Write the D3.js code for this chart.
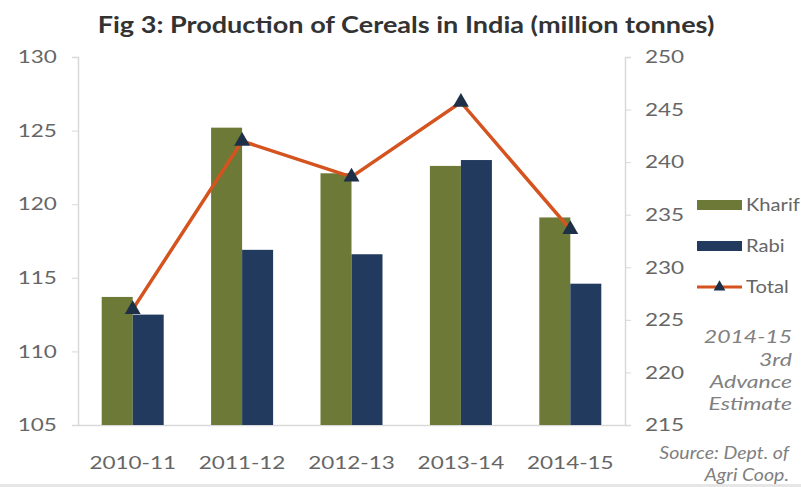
<!DOCTYPE html>
<html>
<head>
<meta charset="utf-8">
<script src="https://cdn.jsdelivr.net/npm/d3@7"></script>
<style>
  html, body { margin: 0; padding: 0; background: #ffffff; }
  svg { display: block; }
</style>
</head>
<body>
<svg id="chart" width="801" height="487"></svg>
<script>
const categories = ["2010-11", "2011-12", "2012-13", "2013-14", "2014-15"];
const kharif = [113.7, 125.2, 122.1, 122.6, 119.1];
const rabi = [112.5, 116.9, 116.6, 123.0, 114.6];
const total = [226.0, 242.0, 238.6, 245.7, 233.6];
const leftTicks = [105, 110, 115, 120, 125, 130];
const rightTicks = [215, 220, 225, 230, 235, 240, 245, 250];
const seriesNames = ["Kharif", "Rabi", "Total"];
const noteLines = ["2014-15", "3rd", "Advance", "Estimate"];
const sourceLines = ["Source: Dept. of", "Agri Coop."];

const colors = { Kharif: "#6d7a37", Rabi: "#223a5e", Total: "#d4531f", marker: "#1d3048" };
const font = "Lato, 'Open Sans', sans-serif";
const SX = 1.25;

const svg = d3.select("#chart");
const pLeft = 78, pRight = 625, pTop = 57, pBottom = 425;

const x = d3.scaleBand().domain(categories).range([pLeft, pRight]).paddingInner(0).paddingOuter(0);
const x1 = d3.scaleBand().domain(["Kharif", "Rabi"]).range([x.bandwidth() / 2 - 31, x.bandwidth() / 2 + 31]);
const yL = d3.scaleLinear().domain([105, 130]).range([pBottom, pTop]);
const yR = d3.scaleLinear().domain([215, 250]).range([pBottom, pTop]);

// bottom strip
svg.append("rect").attr("x", 0).attr("y", 484).attr("width", 801).attr("height", 3).attr("fill", "#e6e6e6");

// Title
svg.append("g").attr("transform", "translate(406,33) scale(1.23,1)")
  .append("text").attr("text-anchor", "middle")
  .attr("font-family", font).attr("font-weight", "bold").attr("font-size", 22).attr("fill", "#333")
  .text("Fig 3: Production of Cereals in India (million tonnes)");

// Axes
const gL = svg.append("g").attr("transform", `translate(${pLeft},0)`)
  .call(d3.axisLeft(yL).tickValues(leftTicks).tickSize(6).tickPadding(11));
const gR = svg.append("g").attr("transform", `translate(${pRight},0)`)
  .call(d3.axisRight(yR).tickValues(rightTicks).tickSize(6).tickPadding(10));
const gX = svg.append("g").attr("transform", `translate(0,${pBottom})`)
  .call(d3.axisBottom(x).tickSize(0).tickPadding(31));
[gL, gR, gX].forEach(g => {
  g.selectAll("path.domain").attr("stroke", "#d9d9d9").attr("stroke-width", 1.5);
  g.selectAll(".tick line").attr("stroke", "#d9d9d9");
  g.selectAll("text").attr("font-family", font).attr("font-size", 18).attr("fill", "#666")
    .attr("transform", `scale(${SX},1)`);
});

// Bars
const groups = svg.append("g").selectAll("g").data(categories).join("g")
  .attr("transform", d => `translate(${x(d)},0)`);
groups.selectAll("rect").data((d, i) => [
  { key: "Kharif", v: kharif[i] }, { key: "Rabi", v: rabi[i] }
]).join("rect")
  .attr("x", d => x1(d.key)).attr("width", x1.bandwidth())
  .attr("y", d => yL(d.v)).attr("height", d => pBottom - yL(d.v))
  .attr("fill", d => colors[d.key]);

// Line
const line = d3.line().x((d, i) => x(categories[i]) + x.bandwidth() / 2).y(d => yR(d));
svg.append("path").datum(total).attr("d", line)
  .attr("fill", "none").attr("stroke", colors.Total).attr("stroke-width", 3.5);
const tri = d3.symbol().type(d3.symbolTriangle).size(110);
svg.append("g").selectAll("path").data(total).join("path")
  .attr("transform", (d, i) => `translate(${x(categories[i]) + x.bandwidth() / 2},${yR(d)})`)
  .attr("d", tri).attr("fill", colors.marker);

// Legend
const lg = svg.append("g");
const ly = [205, 246, 287];
seriesNames.forEach((s, i) => {
  if (s === "Total") {
    lg.append("line").attr("x1", 697).attr("x2", 742).attr("y1", ly[i]).attr("y2", ly[i])
      .attr("stroke", colors.Total).attr("stroke-width", 3);
    lg.append("path").attr("transform", `translate(719.5,${ly[i]})`)
      .attr("d", d3.symbol().type(d3.symbolTriangle).size(60)()).attr("fill", colors.marker);
  } else {
    lg.append("rect").attr("x", 697).attr("y", ly[i] - 5).attr("width", 45).attr("height", 10)
      .attr("fill", colors[s]);
  }
  lg.append("g").attr("transform", `translate(746,${ly[i] + 6}) scale(1.12,1)`)
    .append("text").attr("font-family", font)
    .attr("font-size", 18).attr("fill", "#666").text(s);
});

// Note
const noteY = [343, 366, 388, 410];
noteLines.forEach((t, i) => {
  svg.append("g").attr("transform", `translate(792,${noteY[i]}) scale(1.28,1)`)
    .append("text").attr("text-anchor", "end")
    .attr("font-family", font).attr("font-style", "italic").attr("font-size", 18)
    .attr("fill", "#808080").text(t);
});
const srcY = [459, 481];
sourceLines.forEach((t, i) => {
  svg.append("g").attr("transform", `translate(789,${srcY[i]}) scale(1.15,1)`)
    .append("text").attr("text-anchor", "end")
    .attr("font-family", font).attr("font-style", "italic").attr("font-size", 17)
    .attr("fill", "#808080").text(t);
});
</script>
</body>
</html>
